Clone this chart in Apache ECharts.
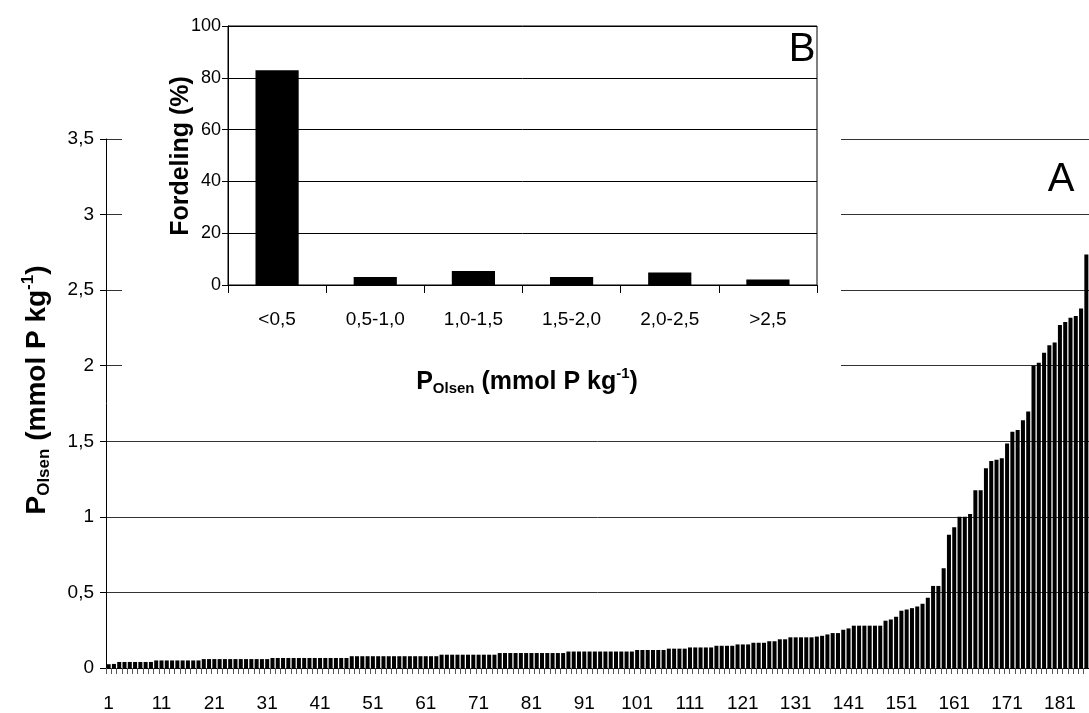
<!DOCTYPE html>
<html>
<head>
<meta charset="utf-8">
<script src="https://cdn.jsdelivr.net/npm/echarts@6/dist/echarts.min.js"></script>
<style>
html,body{margin:0;padding:0;background:#fff;}
#chart{width:1089px;height:713px;}
</style>
</head>
<body>
<div id="chart"></div>
<script>
// Main chart (A): sorted P-Olsen values per sample
const sampleLabels = Array.from({length: 186}, (_, i) => String(i + 1));
const pOlsen = [
  0.025, 0.027,
  0.04, 0.04, 0.04, 0.04, 0.04, 0.04, 0.04,
  0.05, 0.05, 0.05, 0.05, 0.05, 0.05, 0.05, 0.05, 0.05,
  0.059, 0.059, 0.059, 0.059, 0.059, 0.059, 0.059, 0.059, 0.059, 0.059, 0.059, 0.059, 0.059,
  0.066, 0.066, 0.066, 0.066, 0.066, 0.066, 0.066, 0.066, 0.066, 0.066, 0.066, 0.066, 0.066, 0.066, 0.066,
  0.078, 0.078, 0.078, 0.078, 0.078, 0.078, 0.078, 0.078, 0.078, 0.078, 0.078, 0.078, 0.078, 0.078, 0.078, 0.078, 0.078,
  0.088, 0.088, 0.088, 0.088, 0.088, 0.088, 0.088, 0.088, 0.088, 0.088, 0.088,
  0.099, 0.099, 0.099, 0.099, 0.099, 0.099, 0.099, 0.099, 0.099, 0.099, 0.099, 0.099, 0.099,
  0.109, 0.109, 0.109, 0.109, 0.109, 0.109, 0.109, 0.109, 0.109, 0.109, 0.109, 0.109, 0.109,
  0.119, 0.119, 0.119, 0.119, 0.119, 0.119,
  0.128, 0.128, 0.128, 0.128,
  0.136, 0.136, 0.136, 0.136, 0.136,
  0.147, 0.147, 0.147, 0.147,
  0.156, 0.156, 0.156,
  0.167, 0.167, 0.167,
  0.177, 0.177,
  0.19, 0.19,
  0.203, 0.203, 0.203, 0.203, 0.203,
  0.208, 0.213, 0.222, 0.231, 0.231, 0.253, 0.262,
  0.28, 0.28, 0.28, 0.28, 0.28, 0.28,
  0.313, 0.321, 0.339, 0.379, 0.387, 0.396, 0.407, 0.425, 0.465,
  0.543, 0.543, 0.66, 0.882, 0.931, 1.0, 1.0, 1.019, 1.176, 1.176,
  1.321, 1.369, 1.378, 1.387, 1.486, 1.563, 1.574, 1.64, 1.697,
  1.999, 2.019, 2.085, 2.135, 2.153, 2.27, 2.289, 2.318, 2.329, 2.378, 2.736
];

// Inset chart (B): distribution (%)
const classLabels = ['<0,5', '0,5-1,0', '1,0-1,5', '1,5-2,0', '2,0-2,5', '>2,5'];
const distribution = [82.9, 3.1, 5.4, 3.1, 4.8, 2.1];

const FONT = '"Liberation Sans", Arial, sans-serif';
const comma = v => String(v).replace('.', ',');

const chart = echarts.init(document.getElementById('chart'), null, {renderer: 'canvas'});

function makeRich(big, small) {
  return {
    b: {fontSize: big, fontWeight: 'bold', fontFamily: FONT, color: '#000', lineHeight: big + 6, verticalAlign: 'middle'},
    s: {fontSize: small, fontWeight: 'bold', fontFamily: FONT, color: '#000', verticalAlign: 'bottom', padding: [0, 0, 1, 0]},
    p: {fontSize: small, fontWeight: 'bold', fontFamily: FONT, color: '#000', verticalAlign: 'top'}
  };
}
const pTitle = '{b|P}{s|Olsen}{b| (mmol P kg}{p|-1}{b|)}';

chart.setOption({
  animation: false,
  backgroundColor: '#fff',
  textStyle: {fontFamily: FONT},
  grid: [
    {left: 106, right: 0, top: 139, bottom: 44, containLabel: false},
    {left: 228, right: 272, top: 26, bottom: 428, containLabel: false,
     show: true, borderColor: '#000', borderWidth: 1, backgroundColor: 'transparent', z: 10}
  ],
  xAxis: [
    {
      type: 'category', gridIndex: 0, data: sampleLabels, z: 1,
      axisLine: {lineStyle: {color: '#000', width: 1}},
      axisTick: {show: true, interval: 0, length: 6, lineStyle: {color: '#555'}},
      axisLabel: {interval: 9, color: '#000', fontSize: 19, fontFamily: FONT, margin: 26},
      splitLine: {show: false}
    },
    {
      type: 'category', gridIndex: 1, data: classLabels, z: 11,
      axisLine: {lineStyle: {color: '#000', width: 1}},
      axisTick: {show: true, interval: 0, length: 8, lineStyle: {color: '#000'}},
      axisLabel: {interval: 0, color: '#000', fontSize: 19, fontFamily: FONT, margin: 25},
      splitLine: {show: false}
    }
  ],
  yAxis: [
    {
      type: 'value', gridIndex: 0, min: 0, max: 3.5, interval: 0.5, z: 1,
      axisLine: {show: true, lineStyle: {color: '#000', width: 1}},
      axisTick: {show: true, length: 6, lineStyle: {color: '#000'}},
      axisLabel: {color: '#000', fontSize: 19, fontFamily: FONT, margin: 12, formatter: comma},
      splitLine: {show: true, lineStyle: {color: '#333', width: 1}}
    },
    {
      type: 'value', gridIndex: 1, min: 0, max: 100, interval: 20, z: 11,
      axisLine: {show: true, lineStyle: {color: '#000', width: 1}},
      axisTick: {show: true, length: 6, lineStyle: {color: '#000'}},
      axisLabel: {color: '#000', fontSize: 18, fontFamily: FONT, margin: 7},
      splitLine: {show: true, lineStyle: {color: '#000', width: 1}}
    }
  ],
  series: [
    {
      type: 'bar', xAxisIndex: 0, yAxisIndex: 0, data: pOlsen, z: 2,
      barCategoryGap: '24%',
      itemStyle: {color: '#000'}
    },
    {
      type: 'bar', xAxisIndex: 1, yAxisIndex: 1, data: distribution, z: 12,
      barWidth: '44%',
      itemStyle: {color: '#000'}
    }
  ],
  graphic: [
    {type: 'rect', z: 5, shape: {x: 122, y: 0, width: 719, height: 398}, style: {fill: '#fff'}},
    {type: 'text', z: 20, x: 37, y: 390, rotation: Math.PI / 2,
     style: {text: pTitle, rich: makeRich(28, 17), align: 'center', verticalAlign: 'middle'}},
    {type: 'text', z: 20, x: 527, y: 382,
     style: {text: pTitle, rich: makeRich(25, 15), align: 'center', verticalAlign: 'middle'}},
    {type: 'text', z: 20, x: 181, y: 156, rotation: Math.PI / 2,
     style: {text: 'Fordeling (%)', fontSize: 25, fontWeight: 'bold', fontFamily: FONT, fill: '#000', align: 'center', verticalAlign: 'middle'}},
    {type: 'text', z: 20, x: 802, y: 50,
     style: {text: 'B', fontSize: 40, fontFamily: FONT, fill: '#000', align: 'center', verticalAlign: 'middle'}},
    {type: 'text', z: 20, x: 1061, y: 180,
     style: {text: 'A', fontSize: 40, fontFamily: FONT, fill: '#000', align: 'center', verticalAlign: 'middle'}}
  ]
});
</script>
</body>
</html>
